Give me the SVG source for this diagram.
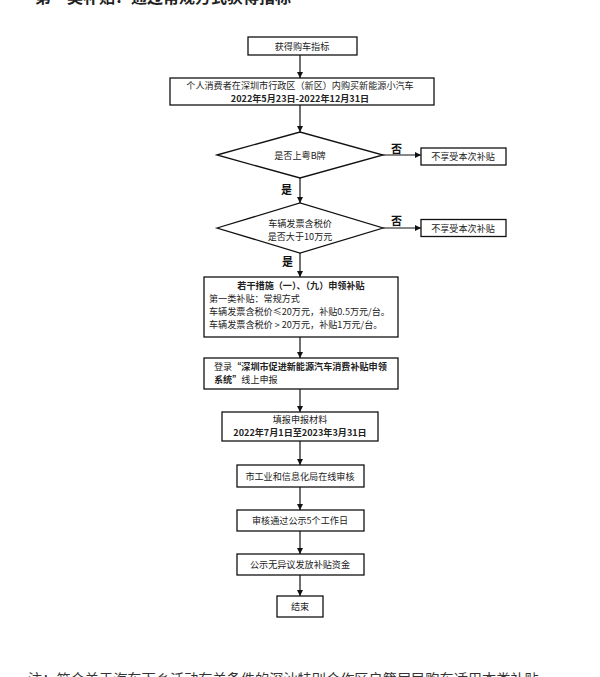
<svg xmlns="http://www.w3.org/2000/svg" width="600" height="677" viewBox="0 0 600 677">
<style>
text{font-family:"Noto Sans CJK SC","Noto Sans",sans-serif;fill:#222;font-size:9.1px}
.c{text-anchor:middle}
.b{font-weight:bold}
.box{fill:#fff;stroke:#111;stroke-width:1.3}
.ln{stroke:#111;stroke-width:1.2;fill:none}
.yn{font-size:11px;font-weight:bold;fill:#111}
</style>
<defs>
<marker id="ah" viewBox="0 0 10 10" refX="10" refY="5" markerWidth="6" markerHeight="6" markerUnits="userSpaceOnUse" orient="auto"><path d="M0,0 L10,5 L0,10 z" fill="#111"/></marker>
</defs>
<rect width="600" height="677" fill="#fff"/>
<text x="35" y="3" style="font-size:16px;font-weight:bold">第一类补贴：通过常规方式获得指标</text>
<g id="connectors">
<path class="ln" d="M300,55 V78" marker-end="url(#ah)"/>
<path class="ln" d="M300,104 V132" marker-end="url(#ah)"/>
<path class="ln" d="M300,178 V203" marker-end="url(#ah)"/>
<path class="ln" d="M300,253 V277" marker-end="url(#ah)"/>
<path class="ln" d="M300,337 V358" marker-end="url(#ah)"/>
<path class="ln" d="M300,389 V412" marker-end="url(#ah)"/>
<path class="ln" d="M300,441 V465" marker-end="url(#ah)"/>
<path class="ln" d="M300,487 V510" marker-end="url(#ah)"/>
<path class="ln" d="M300,531 V554" marker-end="url(#ah)"/>
<path class="ln" d="M300,575 V596" marker-end="url(#ah)"/>
<path class="ln" d="M383,155 H421" marker-end="url(#ah)"/>
<path class="ln" d="M383,228 H421" marker-end="url(#ah)"/>
<text class="yn" x="391" y="153">否</text>
<text class="yn" x="391" y="225">否</text>
<text class="yn" x="281" y="194">是</text>
<text class="yn" x="282" y="266">是</text>
</g>
<g id="n1"><rect class="box" x="248" y="37" width="109" height="18"/><text class="c" x="302" y="49.5">获得购车指标</text></g>
<g id="n2"><rect class="box" x="170" y="78" width="264" height="27"/><text class="c" x="300" y="89">个人消费者在深圳市行政区（新区）内购买新能源小汽车</text><text class="c b" x="300" y="102">2022年5月23日-2022年12月31日</text></g>
<g id="n3"><path class="box" d="M217,155 L300,132 L383,155 L300,178 z"/><text class="c" x="300" y="158.5">是否上粤B牌</text></g>
<g id="n4"><rect class="box" x="421" y="148" width="85" height="17"/><text class="c" x="463" y="160">不享受本次补贴</text></g>
<g id="n5"><path class="box" d="M217,228 L300,203 L383,228 L300,253 z"/><text class="c" x="300" y="227">车辆发票含税价</text><text class="c" x="300" y="239.5">是否大于10万元</text></g>
<g id="n6"><rect class="box" x="421" y="219.5" width="85" height="17"/><text class="c" x="463" y="231.5">不享受本次补贴</text></g>
<g id="n7"><rect class="box" x="204" y="277" width="194" height="60"/><text class="c b" x="301" y="288.5">若干措施（一）、（九）申领补贴</text><text x="209" y="302">第一类补贴：常规方式</text><text x="209" y="314.5">车辆发票含税价≤20万元，补贴0.5万元/台。</text><text x="209" y="327.5">车辆发票含税价 &gt; 20万元，补贴1万元/台。</text></g>
<g id="n8"><rect class="box" x="204" y="358" width="194" height="31"/><text x="214" y="369.5">登录<tspan class="b">“深圳市促进新能源汽车消费补贴申领</tspan></text><text x="214" y="382.5"><tspan class="b">系统”</tspan>线上申报</text></g>
<g id="n9"><rect class="box" x="222" y="412" width="156" height="29"/><text class="c" x="300" y="423">填报申报材料</text><text class="c b" x="300" y="436">2022年7月1日至2023年3月31日</text></g>
<g id="n10"><rect class="box" x="237" y="465" width="127" height="22"/><text class="c" x="300" y="479.5">市工业和信息化局在线审核</text></g>
<g id="n11"><rect class="box" x="237" y="510" width="127" height="21"/><text class="c" x="300" y="524">审核通过公示5个工作日</text></g>
<g id="n12"><rect class="box" x="237" y="554" width="127" height="21"/><text class="c" x="300" y="568">公示无异议发放补贴资金</text></g>
<g id="n13"><rect class="box" x="277" y="596" width="46" height="21"/><text class="c" x="300" y="610">结束</text></g>
<text x="28" y="684" style="font-size:14.2px;fill:#333">注：符合关于汽车下乡活动有关条件的深汕特别合作区户籍居民购车适用本类补贴</text>
</svg>
